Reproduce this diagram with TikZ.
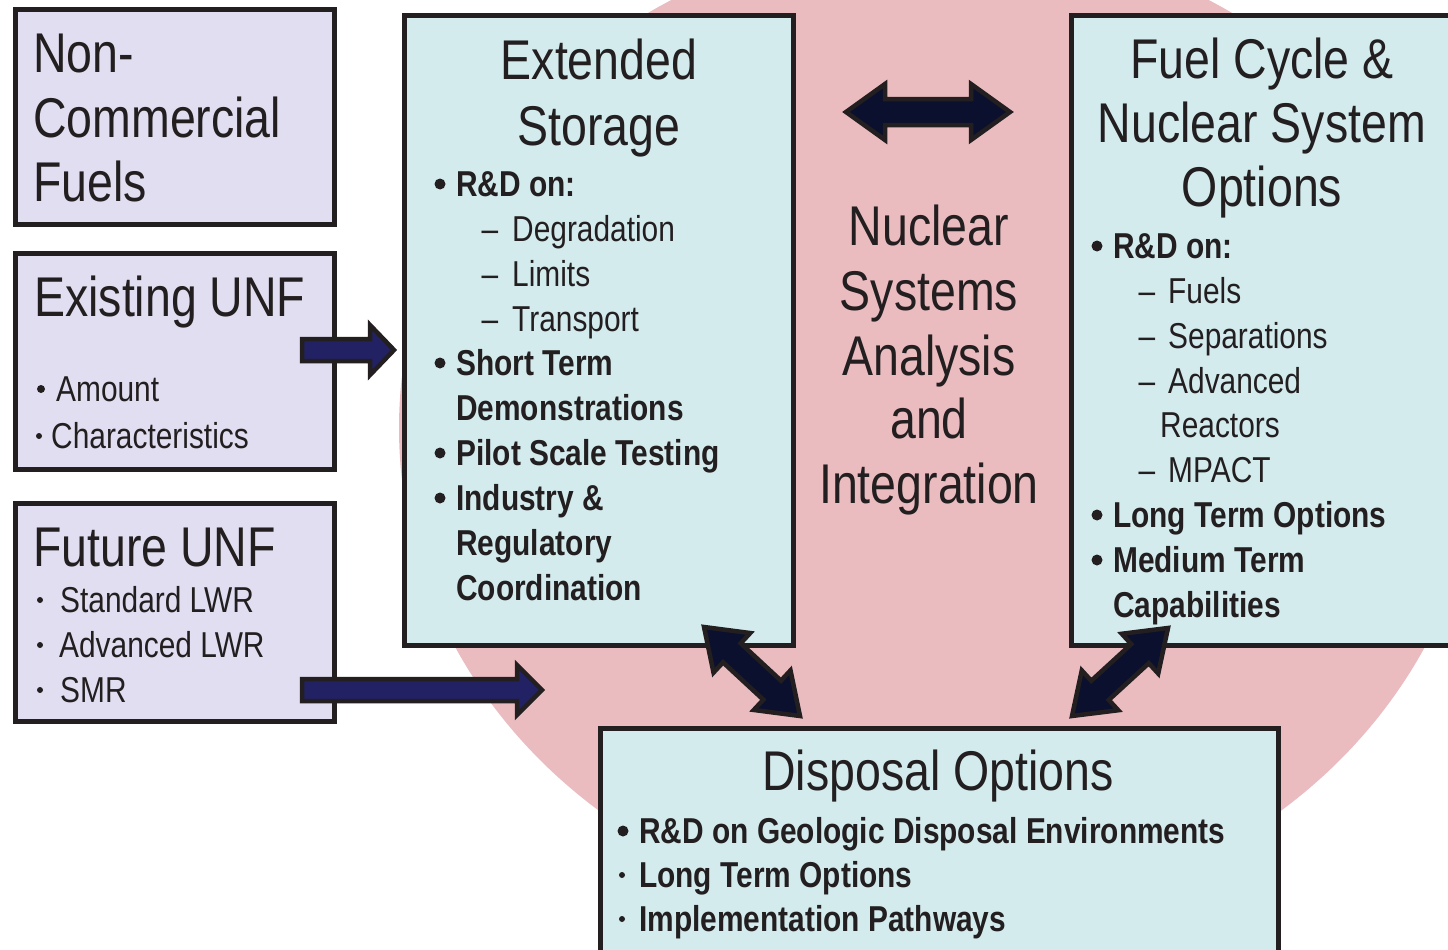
\documentclass[tikz,border=0pt]{standalone}
\usepackage{fontspec}
\setmainfont{Liberation Sans}[FakeStretch=0.83]
\usetikzlibrary{calc}

\definecolor{ink}{RGB}{35,31,32}
\definecolor{lav}{RGB}{224,222,240}
\definecolor{aqua}{RGB}{212,235,238}
\definecolor{rose}{RGB}{234,188,192}
\definecolor{navy}{RGB}{34,33,100}
\definecolor{midnight}{RGB}{11,16,46}

\newcommand{\ttlfont}{\fontsize{56}{64}\selectfont}
\newcommand{\itmfont}{\fontsize{36}{45}\selectfont}

% single block arrow: style, tail, tip, shaft half-width, head half-width, head length
\newcommand{\onearrow}[6]{%
  \coordinate (#2-h) at ($(#3)!#6!(#2)$);
  \draw[#1] ($(#2)!#4!90:(#3)$) -- ($(#2-h)!#4!-90:(#2)$) -- ($(#2-h)!#5!-90:(#2)$)
    -- (#3) -- ($(#2-h)!#5!90:(#2)$) -- ($(#2-h)!#4!90:(#2)$) -- ($(#2)!#4!-90:(#3)$) -- cycle;
}
% double block arrow: style, tip, tip, shaft half-width, head half-width, head length
\newcommand{\twoarrow}[6]{%
  \coordinate (#2-h) at ($(#2)!#6!(#3)$);
  \coordinate (#3-h) at ($(#3)!#6!(#2)$);
  \draw[#1] (#2) -- ($(#2-h)!#5!90:(#3)$) -- ($(#2-h)!#4!90:(#3)$)
    -- ($(#3-h)!#4!-90:(#2)$) -- ($(#3-h)!#5!-90:(#2)$) -- (#3)
    -- ($(#3-h)!#5!90:(#2)$) -- ($(#3-h)!#4!90:(#2)$)
    -- ($(#2-h)!#4!-90:(#3)$) -- ($(#2-h)!#5!-90:(#3)$) -- cycle;
}

\tikzset{
  box/.style={draw=ink, line width=5pt, anchor=north west, inner sep=0pt, outer sep=0pt},
  lavbox/.style={box, fill=lav},
  aquabox/.style={box, fill=aqua},
  ttlL/.style={anchor=base west, inner sep=0pt, text=ink, font=\ttlfont},
  ttlC/.style={anchor=base, inner sep=0pt, text=ink, font=\ttlfont},
  txt/.style={anchor=base west, inner sep=0pt, text=ink, font=\itmfont},
  txtb/.style={txt, font=\itmfont\bfseries},
  dsh/.style={anchor=base, inner sep=0pt, text=ink, font=\itmfont},
  dotbig/.style={circle, fill=ink, inner sep=0pt, minimum size=11pt},
  dotmid/.style={circle, fill=ink, inner sep=0pt, minimum size=8pt},
  dotsm/.style={circle, fill=ink, inner sep=0pt, minimum size=6pt},
  feed/.style={fill=navy, draw=ink, line width=4.5pt, line join=miter},
  link/.style={fill=midnight, draw=ink, line width=4.5pt, line join=miter},
}

\begin{document}
\begin{tikzpicture}[x=1pt, y=-1pt]
\path[use as bounding box] (0,0) rectangle (1448,950);
\clip (0,0) rectangle (1448,950);

% backdrop
\fill[rose] (940,428) ellipse [x radius=541pt, y radius=493pt];

% boxes
\node[lavbox, minimum width=319pt, minimum height=214pt] (noncom) at (15,10) {};
\node[lavbox, minimum width=319pt, minimum height=216pt] (exist) at (15,253) {};
\node[lavbox, minimum width=319pt, minimum height=218pt] (future) at (15,503) {};
\node[aquabox, minimum width=389pt, minimum height=629pt] (storage) at (404,16) {};
\node[aquabox, minimum width=399pt, minimum height=629pt] (cycle) at (1071,16) {};
\node[aquabox, minimum width=678pt, minimum height=252pt] (disposal) at (600,728) {};

% Non-Commercial Fuels
\node[ttlL] (nc1) at (33,72) {Non-};
\node[ttlL] (nc2) at (33,137) {Commercial};
\node[ttlL] (nc3) at (33,201) {Fuels};

% Existing UNF
\node[ttlL] (ex1) at (34,316) {Existing UNF};
\node[dotmid] (exd1) at (41,389) {};
\node[txt] (ex2) at (56,401) {Amount};
\node[dotsm] (exd2) at (39,436) {};
\node[txt] (ex3) at (51,448) {Characteristics};

% Future UNF
\node[ttlL] (fu1) at (33,566) {Future UNF};
\node[dotsm] (fud1) at (40,600) {};
\node[txt] (fu2) at (60,612) {Standard LWR};
\node[dotsm] (fud2) at (40,645) {};
\node[txt] (fu3) at (59,657) {Advanced LWR};
\node[dotsm] (fud3) at (40,690) {};
\node[txt] (fu4) at (60,702) {SMR};

% Extended Storage
\node[ttlC] (st1) at (599,80) {Extended};
\node[ttlC] (st2) at (599,145) {Storage};
\node[dotbig] (std1) at (440,184) {};
\node[txtb] (st3) at (456,196) {R\&D on:};
\node[dsh] (sth1) at (490,241) {–};
\node[txt] (st4) at (512,241) {Degradation};
\node[dsh] (sth2) at (490,286) {–};
\node[txt] (st5) at (512,286) {Limits};
\node[dsh] (sth3) at (490,331) {–};
\node[txt] (st6) at (512,331) {Transport};
\node[dotbig] (std2) at (440,363) {};
\node[txtb] (st7) at (456,375) {Short Term};
\node[txtb] (st8) at (456,420) {Demonstrations};
\node[dotbig] (std3) at (440,453) {};
\node[txtb] (st9) at (456,465) {Pilot Scale Testing};
\node[dotbig] (std4) at (440,498) {};
\node[txtb] (st10) at (456,510) {Industry \&};
\node[txtb] (st11) at (456,555) {Regulatory};
\node[txtb] (st12) at (456,600) {Coordination};

% Fuel Cycle & Nuclear System Options
\node[ttlC] (fc1) at (1262,78) {Fuel Cycle \&};
\node[ttlC] (fc2) at (1262,142) {Nuclear System};
\node[ttlC] (fc3) at (1262,206) {Options};
\node[dotbig] (fcd1) at (1097,246) {};
\node[txtb] (fc4) at (1113,258) {R\&D on:};
\node[dsh] (fch1) at (1147,303) {–};
\node[txt] (fc5) at (1168,303) {Fuels};
\node[dsh] (fch2) at (1147,348) {–};
\node[txt] (fc6) at (1168,348) {Separations};
\node[dsh] (fch3) at (1147,393) {–};
\node[txt] (fc7) at (1168,393) {Advanced};
\node[txt] (fc8) at (1160,437) {Reactors};
\node[dsh] (fch4) at (1147,482) {–};
\node[txt] (fc9) at (1168,482) {MPACT};
\node[dotbig] (fcd2) at (1097,515) {};
\node[txtb] (fc10) at (1113,527) {Long Term Options};
\node[dotbig] (fcd3) at (1097,560) {};
\node[txtb] (fc11) at (1113,572) {Medium Term};
\node[txtb] (fc12) at (1113,617) {Capabilities};

% central label
\node[ttlC] (ns1) at (929,245) {Nuclear};
\node[ttlC] (ns2) at (929,310) {Systems};
\node[ttlC] (ns3) at (929,375) {Analysis};
\node[ttlC] (ns4) at (929,438) {and};
\node[ttlC] (ns5) at (929,503) {Integration};

% Disposal Options
\node[ttlC] (dp1) at (938,790) {Disposal Options};
\node[dotbig] (dpd1) at (623,831) {};
\node[txtb] (dp2) at (639,843) {R\&D on Geologic Disposal Environments};
\node[dotsm] (dpd2) at (622,875) {};
\node[txtb] (dp3) at (639,887) {Long Term Options};
\node[dotsm] (dpd3) at (622,919) {};
\node[txtb] (dp4) at (639,931) {Implementation Pathways};

% arrow ends
\coordinate (exT) at (302,350);
\coordinate (exH) at (394,350);
\coordinate (fuT) at (302,690);
\coordinate (fuH) at (542,690);
\coordinate (topL) at (846,112);
\coordinate (topR) at (1010,112);
\coordinate (stA) at (704,627);
\coordinate (dpA) at (800,716);
\coordinate (fcA) at (1168,628);
\coordinate (dpB) at (1072,716);

% arrows
\onearrow{feed}{exT}{exH}{11pt}{25pt}{24pt}
\onearrow{feed}{fuT}{fuH}{11pt}{25pt}{25pt}
\twoarrow{link}{topL}{topR}{13pt}{28pt}{39pt}
\twoarrow{link}{stA}{dpA}{13pt}{27pt}{38pt}
\twoarrow{link}{fcA}{dpB}{13pt}{27pt}{38pt}

\end{tikzpicture}
\end{document}
